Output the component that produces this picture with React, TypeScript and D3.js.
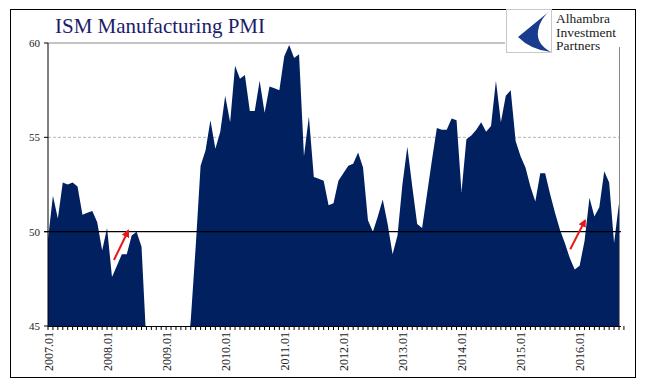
import React from "react";
import * as d3 from "d3";

const pmi2007 = [49.6, 51.9, 50.7, 52.6, 52.5, 52.6, 52.4, 50.9, 51.0, 51.1, 50.5, 49.0];
const pmi2008 = [50.2, 47.6, 48.2, 48.8, 48.8, 49.8, 50.0, 49.2, 44.0, 38.9, 36.2, 32.4];
const pmi2009 = [34.9, 35.5, 36.3, 40.1, 42.8, 45.3, 49.2, 53.5, 54.3, 55.9, 54.4, 55.3];
const pmi2010 = [57.2, 55.8, 58.8, 58.1, 58.3, 56.4, 56.4, 58.0, 56.3, 57.7, 57.6, 57.5];
const pmi2011 = [59.3, 59.9, 59.2, 59.4, 54.0, 56.1, 52.9, 52.8, 52.7, 51.4, 51.5, 52.7];
const pmi2012 = [53.1, 53.5, 53.6, 54.2, 53.4, 50.6, 50.0, 50.8, 51.7, 50.4, 48.8, 49.8];
const pmi2013 = [52.5, 54.5, 52.4, 50.4, 50.2, 52.0, 53.8, 55.5, 55.4, 55.4, 56.0, 55.9];
const pmi2014 = [52.1, 54.9, 55.1, 55.4, 55.8, 55.3, 55.6, 58.0, 55.8, 57.2, 57.5, 54.8];
const pmi2015 = [54.0, 53.4, 52.4, 51.6, 53.1, 53.1, 52.0, 51.0, 50.1, 49.4, 48.6, 48.0];
const pmi2016 = [48.2, 49.5, 51.8, 50.8, 51.3, 53.2, 52.6, 49.4, 51.5];

const values = [
  ...pmi2007, ...pmi2008, ...pmi2009, ...pmi2010, ...pmi2011,
  ...pmi2012, ...pmi2013, ...pmi2014, ...pmi2015, ...pmi2016,
];

const yearLabels = ["2007.01", "2008.01", "2009.01", "2010.01", "2011.01", "2012.01", "2013.01", "2014.01", "2015.01", "2016.01"];
const yTicks = [45, 50, 55, 60];
const logoLines = ["Alhambra", "Investment", "Partners"];
// arrows in (month index, PMI value) units
const arrowStart = [[13.4, 48.5], [106.1, 49.07]];
const arrowEnd = [[16.3, 50.05], [109.1, 50.6]];

export default function App() {
  const W = 647, H = 392;
  const left = 48, right = 619, top = 43, bottom = 326;
  const x = d3.scaleLinear().domain([0, values.length - 1]).range([left, right]);
  const y = d3.scaleLinear().domain([45, 60]).range([bottom, top]);
  const area = d3.area<number>().x((_, i) => x(i)).y0(y(45)).y1((d) => y(d));
  const monthTicks = d3.range(0, values.length + 1);
  const serif = "'Liberation Serif', 'Times New Roman', serif";

  return (
    <svg width={W} height={H} style={{ position: "absolute", left: 0, top: 0 }} fontFamily={serif}>
      <defs>
        <clipPath id="plot">
          <rect x={left} y={top} width={right - left} height={bottom - top} />
        </clipPath>
        <marker id="ah" viewBox="0 0 10 10" refX="8" refY="5" markerWidth="4" markerHeight="4" orient="auto">
          <path d="M0,0 L10,5 L0,10 Z" fill="#e8161b" />
        </marker>
      </defs>
      <rect x={0} y={0} width={W} height={H} fill="#fff" />
      <rect x={10.5} y={9.5} width={625} height={368} fill="none" stroke="#000" strokeWidth={1} />

      <text x={55} y={33} fontSize={21} fill="#1c1c6b">ISM Manufacturing PMI</text>

      {/* gridlines */}
      <line x1={left} x2={right} y1={y(60)} y2={y(60)} stroke="#888" strokeWidth={1} />
      <line x1={left} x2={right} y1={y(55)} y2={y(55)} stroke="#b5b5b5" strokeWidth={1} strokeDasharray="3,2" />
      <line x1={right + 0.5} x2={right + 0.5} y1={top} y2={bottom} stroke="#888" strokeWidth={1} />

      <path d={area(values) || ""} fill="#002060" clipPath="url(#plot)" />

      <line x1={left - 4} x2={right + 2} y1={y(50)} y2={y(50)} stroke="#000" strokeWidth={1.3} />

      {/* y axis */}
      <line x1={left} x2={left} y1={top} y2={bottom} stroke="#000" strokeWidth={1} />
      {yTicks.map((t) => (
        <g key={t}>
          <line x1={left - 4} x2={left} y1={y(t)} y2={y(t)} stroke="#000" />
          <text x={40} y={y(t)} dy="0.35em" textAnchor="end" fontSize={11} fill="#222">{t}</text>
        </g>
      ))}

      {/* x axis */}
      <line x1={left} x2={right + 2} y1={bottom + 0.5} y2={bottom + 0.5} stroke="#000" strokeWidth={1} />
      {monthTicks.map((m) => (
        <line key={m} x1={x(m)} x2={x(m)} y1={bottom} y2={bottom + 4} stroke="#000" strokeWidth={1} />
      ))}
      {yearLabels.map((lab, i) => (
        <text key={lab} transform={`translate(${x(i * 12) + 0.5},332) rotate(-90)`} dy="0.35em" textAnchor="end" fontSize={12} fill="#222">{lab}</text>
      ))}

      {/* arrows */}
      {arrowStart.map((s, i) => (
        <line key={i} x1={x(s[0])} y1={y(s[1])} x2={x(arrowEnd[i][0])} y2={y(arrowEnd[i][1])} stroke="#e8161b" strokeWidth={2} markerEnd="url(#ah)" />
      ))}

      {/* logo */}
      <rect x={505} y={10} width={125} height={37} fill="#fff" />
      <rect x={506.5} y={9.5} width={45} height={43} fill="#fff" stroke="#c8c8c8" strokeWidth={1} />
      <path d="M551,10 L518,37 Q531,50 551,52 Q536,44 538,31 Q540,18 551,10 Z" fill="#1a3c8f" />
      {logoLines.map((t, i) => (
        <text key={t} x={556} y={23 + i * 13.5} fontSize={13.5} fill="#222">{t}</text>
      ))}
    </svg>
  );
}
